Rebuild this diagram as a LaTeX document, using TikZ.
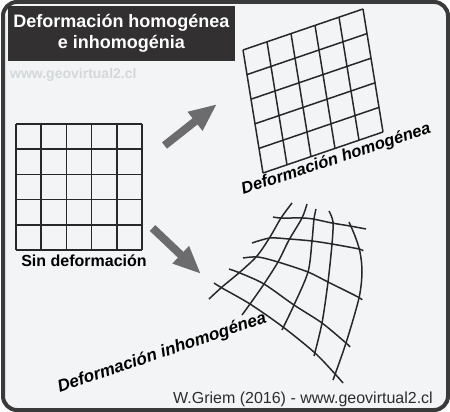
\documentclass[tikz,border=0pt]{standalone}
\usepackage{fontspec}
\setmainfont{Liberation Sans}
\usepackage{tikz}
\usepackage{xcolor}
\usetikzlibrary{arrows.meta}
\definecolor{fondo}{RGB}{242,244,245}
\definecolor{marco}{RGB}{58,58,58}
\definecolor{titulo}{RGB}{50,48,48}
\definecolor{flecha}{RGB}{108,108,110}
\definecolor{marca}{RGB}{212,216,219}
\definecolor{linea}{RGB}{40,40,40}
\definecolor{pietxt}{RGB}{45,45,45}

\begin{document}
\begin{tikzpicture}[x=1pt,y=-1pt]%
  \tikzstyle{malla}=[draw=linea,line width=1.5pt]
  \tikzstyle{flechag}=[draw=flecha,line width=8pt,-{Triangle[length=28pt,width=22pt]}]
  \tikzstyle{etiq}=[inner sep=0,anchor=base]
  \useasboundingbox (0,0) rectangle (450,412);
  \fill[white] (0,0) rectangle (450,412);
  \draw[marco,fill=fondo,line width=4pt,rounded corners=14pt] (3,2) rectangle (448,410);
  % titulo
  \node(tit)[fill=titulo,text=white,minimum width=227pt,minimum height=55.5pt,align=center,
    font=\bfseries\fontsize{18}{21}\selectfont] at (121.5,33.5) {Deformación homogénea\\e inhomogénia};
  \node(web)[anchor=base west,inner sep=0,text=marca,font=\bfseries\fontsize{14}{16}\selectfont]
    at (10,78) {www.geovirtual2.cl};
  % sin deformacion
  \foreach \i in {0,...,5} {
    \draw[malla] (16+25.2*\i,124) -- (16+25.2*\i,250);
    \draw[malla] (16,124+25.2*\i) -- (142,124+25.2*\i);
  }
  \node(sin)[etiq,font=\bfseries\fontsize{16}{18}\selectfont] at (84,266.5) {Sin deformación};
  % homogenea
  \begin{scope}[shift={(243,50)},x={(24pt,8.2pt)},y={(4pt,-24.6pt)}]
    \foreach \i in {0,...,5} {
      \draw[malla] (\i,0) -- (\i,5);
      \draw[malla] (0,\i) -- (5,\i);
    }
  \end{scope}
  \node(hom)[etiq,rotate=18.3,font=\bfseries\itshape\fontsize{16.5}{18}\selectfont]
    at (337.5,163.5) {Deformación homogénea};
  % inhomogenea
  \draw[malla] plot[smooth] coordinates {(292,203) (281,218) (270,237) (257,256) (240,272) (222,287) (209,299)};
  \draw[malla] plot[smooth] coordinates {(307,204) (302,218) (289,240) (278,262) (264,284) (250,304) (242,315)};
  \draw[malla] plot[smooth] coordinates {(316,209) (314,219) (312,241) (308,272) (294,305) (282,330)};
  \draw[malla] plot[smooth] coordinates {(329,211) (333,222) (332,244) (328,282) (322,323) (314,356)};
  \draw[malla] plot[smooth] coordinates {(349,222) (355,236) (360,252) (362,272) (359,298) (346,343) (333,380)};
  \draw[malla] plot[smooth] coordinates {(273,217) (281,218) (302,218) (313,219) (332,223) (350,226) (366,229)};
  \draw[malla] plot[smooth] coordinates {(252,243) (270,238) (289,239) (312,241) (332,244) (359,249) (363,251)};
  \draw[malla] plot[smooth] coordinates {(243,258) (258,257) (278,262) (308,272) (328,282) (358,297) (362,300)};
  \draw[malla] plot[smooth] coordinates {(229,269) (240,273) (264,284) (294,305) (322,323) (346,343) (350,347)};
  \draw[malla] plot[smooth] coordinates {(214,283) (222,288) (250,304) (283,327) (315,353) (336,375) (343,383)};
  \node(inh)[etiq,rotate=18.8,font=\bfseries\itshape\fontsize{17}{19}\selectfont]
    at (163.5,357.5) {Deformación inhomogénea};
  % flechas
  \coordinate (a1) at (164.5,145.5);
  \coordinate (b1) at (217,104);
  \coordinate (a2) at (152.5,228);
  \coordinate (b2) at (201,274);
  \draw[flechag] (a1) -- (b1);
  \draw[flechag] (a2) -- (b2);
  \node(pie)[anchor=base east,inner sep=0,text=pietxt,font=\fontsize{16}{18}\selectfont]
    at (433,403) {W.Griem (2016) - www.geovirtual2.cl};
\end{tikzpicture}
\end{document}
